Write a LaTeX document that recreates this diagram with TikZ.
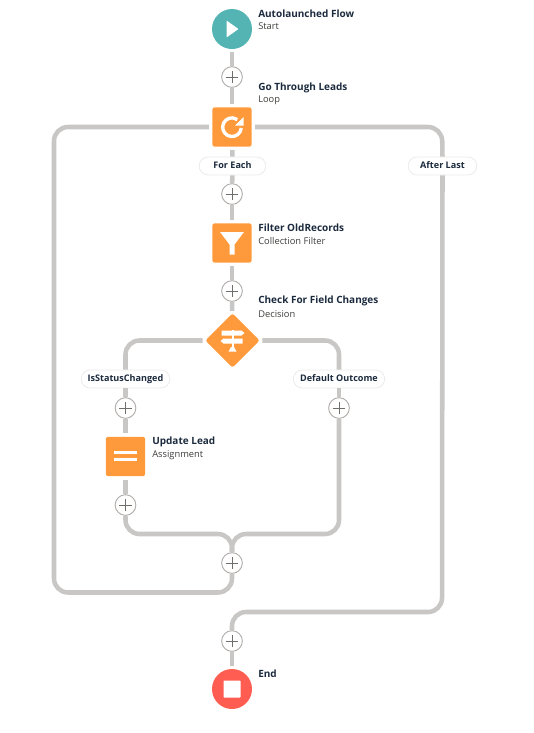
\documentclass[tikz,border=0pt]{standalone}
\usepackage{fontspec}
\setmainfont{Open Sans}
\usetikzlibrary{shapes.geometric}
\definecolor{flowline}{HTML}{C9C7C5}
\definecolor{orangeel}{HTML}{FF9A3C}
\definecolor{tealel}{HTML}{54B3B3}
\definecolor{redel}{HTML}{FF5D52}
\definecolor{titletxt}{HTML}{1B2A3D}
\definecolor{subtxt}{HTML}{3E3E3C}
\definecolor{plusc}{HTML}{706E6B}
\definecolor{ringc}{HTML}{B0ADAB}
\definecolor{pillc}{HTML}{ECEBEA}
\tikzset{
  x=0.75pt,y=-0.75pt,
  conn/.style={draw=flowline,line width=3.4pt,rounded corners=10.5pt},
  circel/.style={circle,fill=#1,minimum size=30pt,inner sep=0pt,outer sep=2.6pt},
  boxel/.style={rectangle,fill=orangeel,minimum size=29.5pt,inner sep=0pt,outer sep=2.6pt,rounded corners=1.8pt},
  diael/.style={diamond,fill=orangeel,minimum width=42pt,minimum height=42pt,aspect=1,inner sep=0pt,outer sep=1.4pt,rounded corners=2pt},
  addbtn/.style={circle,draw=ringc,line width=0.7pt,fill=white,minimum size=15.5pt,inner sep=0pt,
    path picture={\draw[plusc,line width=0.75pt]
      ([xshift=-4.6pt]path picture bounding box.center)--([xshift=4.6pt]path picture bounding box.center)
      ([yshift=-4.6pt]path picture bounding box.center)--([yshift=4.6pt]path picture bounding box.center);}},
  pill/.style={rectangle,draw=pillc,line width=0.6pt,fill=white,rounded corners=6.7pt,minimum height=13.5pt,inner sep=0pt,
    text height=5.4pt,text depth=1.5pt,
    font=\fontsize{6.8pt}{9pt}\selectfont\bfseries,text=titletxt},
  ttl/.style={anchor=base west,inner sep=0pt,font=\fontsize{7.5pt}{9pt}\selectfont\bfseries,text=titletxt},
  sub/.style={anchor=base west,inner sep=0pt,font=\fontsize{7pt}{9pt}\selectfont,text=subtxt},
}
\begin{document}
\begin{tikzpicture}
\useasboundingbox (0,0) rectangle (533,733);
% elements
\node[circel=tealel] (start) at (232,29) {};
\node[addbtn] (add1) at (232,77) {};
\node[boxel] (loop) at (232,127) {};
\node[pill,minimum width=50pt] (foreach) at (232.5,166) {For Each};
\node[pill,minimum width=51.5pt] (afterlast) at (442.5,166) {After Last};
\node[addbtn] (add2) at (232,194) {};
\node[boxel] (filter) at (232,243) {};
\node[addbtn] (add3) at (232,291) {};
\node[diael] (decision) at (232.5,340.5) {};
\node[pill,minimum width=66.5pt] (status) at (125.5,379) {IsStatusChanged};
\node[pill,minimum width=68.5pt] (default) at (339,379) {Default Outcome};
\node[addbtn] (add4) at (125.5,408) {};
\node[addbtn] (add5) at (339,408) {};
\node[boxel] (update) at (125.5,456.5) {};
\node[addbtn] (add6) at (125.5,505) {};
\node[addbtn] (add7) at (232,563) {};
\node[addbtn] (add8) at (232,641) {};
\node[circel=redel] (endel) at (232,689) {};
% corner coordinates
\coordinate (c1) at (339,534);
\coordinate (c2) at (125.5,534);
\coordinate (c3) at (232,534);
\coordinate (c4) at (232,592.5);
\coordinate (c5) at (54,592.5);
\coordinate (c6) at (54,127);
\coordinate (c7) at (442,127);
\coordinate (c8) at (442,612);
\coordinate (c9) at (232,612);
\coordinate (c10) at (125.5,340.5);
\coordinate (c11) at (339,340.5);
% connectors
\draw[conn] (start) -- (add1);
\draw[conn] (add1) -- (loop);
\draw[conn] (loop) -- (foreach);
\draw[conn] (foreach) -- (add2);
\draw[conn] (add2) -- (filter);
\draw[conn] (filter) -- (add3);
\draw[conn] (add3) -- (decision);
\draw[conn] (decision.west) -- (c10) -- (status.north);
\draw[conn] (decision.east) -- (c11) -- (default.north);
\draw[conn] (status) -- (add4);
\draw[conn] (default) -- (add5);
\draw[conn] (add4) -- (update);
\draw[conn] (update) -- (add6);
\draw[conn] (add6.south) -- (c2) -- (c3) -- (add7.north);
\draw[conn] (add5.south) -- (c1) -- (c3) -- (add7.north);
\draw[conn] (add7.south) -- (c4) -- (c5) -- (c6) -- (loop.west);
\draw[conn] (loop.east) -- (c7) -- (afterlast.north);
\draw[conn] (afterlast.south) -- (c8) -- (c9) -- (add8.north);
\draw[conn] (add8) -- (endel);
% icons
\begin{scope}[shift={(start.center)}]
  \fill[white,rounded corners=0.5pt] (-5.5,-8.5) -- (6.5,0) -- (-5.5,8.5) -- cycle;
\end{scope}
\begin{scope}[shift={(loop.center)}]
  \draw[white,line width=2.5pt] (9.3,1) arc[start angle=-5,end angle=-305,radius=7pt];
  \fill[white] (11.5,-10) -- (11.5,-1.5) -- (3,-1.5) -- cycle;
\end{scope}
\begin{scope}[shift={(filter.center)}]
  \fill[white] (-12,-11) -- (12,-11) -- (2.5,1.5) -- (2.5,11.5) -- (-2.5,11.5) -- (-2.5,1.5) -- cycle;
\end{scope}
\begin{scope}[shift={(decision.center)}]
  \fill[white] (-1,-11) rectangle (1,7);
  \fill[white] (-11,-10) -- (9,-10) -- (12,-7.5) -- (9,-5) -- (-11,-5) -- cycle;
  \fill[white] (-12,0.5) -- (-9,-2) -- (10,-2) -- (10,3) -- (-9,3) -- cycle;
  \fill[white] (-4,11) -- (-1.5,6.5) -- (1.5,6.5) -- (4,11) -- cycle;
\end{scope}
\begin{scope}[shift={(update.center)}]
  \fill[white] (-11.7,-5.5) rectangle (11.7,-2.5);
  \fill[white] (-11.7,1.5) rectangle (11.7,4.5);
\end{scope}
\begin{scope}[shift={(endel.center)}]
  \fill[white,rounded corners=0.5pt] (-8.5,-8.5) rectangle (8.5,8.5);
\end{scope}
% labels
\node[ttl] (t1) at (258,17.5) {Autolaunched Flow};
\node[sub] (s1) at (258,29.5) {Start};
\node[ttl] (t2) at (258,90.5) {Go Through Leads};
\node[sub] (s2) at (258,102.5) {Loop};
\node[ttl] (t3) at (258,231.5) {Filter OldRecords};
\node[sub] (s3) at (258,244.5) {Collection Filter};
\node[ttl] (t4) at (258,303.5) {Check For Field Changes};
\node[sub] (s4) at (258,317.5) {Decision};
\node[ttl] (t5) at (152,444.5) {Update Lead};
\node[sub] (s5) at (152,457.5) {Assignment};
\node[ttl] (t6) at (258,677.5) {End};
\end{tikzpicture}
\end{document}
